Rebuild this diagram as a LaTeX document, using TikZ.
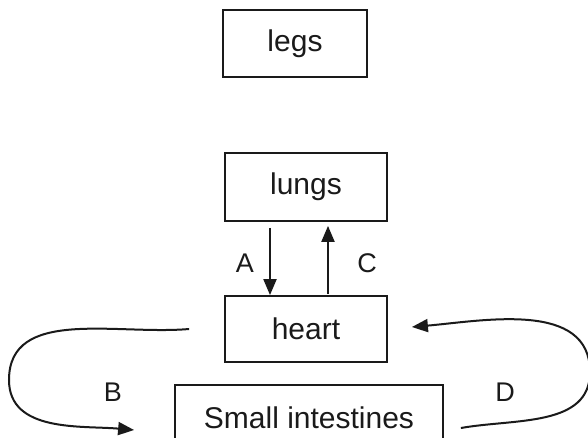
\documentclass[tikz,border=0pt]{standalone}
\usepackage{fontspec}
\setmainfont{Liberation Sans}
\usetikzlibrary{arrows.meta}
\begin{document}
\begin{tikzpicture}[x=1pt,y=1pt,font=\fontsize{30}{34}\selectfont]
  \definecolor{inka}{HTML}{1A1A1A}
  \tikzset{
    organ/.style={draw=inka,text=inka,line width=1.8pt,inner sep=0pt,minimum height=66pt},
    flow/.style={draw=inka,line width=2pt,-{Triangle[length=16pt,width=13pt]}},
    tag/.style={text=inka,font=\fontsize{27}{30}\selectfont}
  }
  \useasboundingbox (0,0) rectangle (588,438);
  \clip (0,0) rectangle (588,438);
  \node[organ,minimum width=144pt,minimum height=67pt] (legs) at (295,394.5) {legs};
  \node[organ,minimum width=162pt,minimum height=68pt] (lungs) at (306,251) {lungs};
  \node[organ,minimum width=162pt] (heart) at (306,109) {heart};
  \node[organ,minimum width=268pt] (intestines) at (309,20) {Small intestines};
  \draw[flow] ([xshift=-36pt,yshift=-6pt]lungs.south) -- ([xshift=-36pt]heart.north);
  \draw[flow] ([xshift=22pt,yshift=1pt]heart.north) -- ([xshift=22pt,yshift=-4pt]lungs.south);
  \node[tag] (A) at (245,175) {A};
  \node[tag] (C) at (367,175) {C};
  \coordinate (bturn) at (9,58);
  \coordinate (dturn) at (590,66);
  \draw[flow] ([xshift=-35pt]heart.west) to[out=185,in=90] (bturn)
    to[out=-90,in=175] ([xshift=-40pt,yshift=-12pt]intestines.west);
  \draw[flow] ([xshift=17pt,yshift=-10pt]intestines.east) to[out=10,in=-90] (dturn)
    to[out=90,in=5] ([xshift=24pt,yshift=2pt]heart.east);
  \node[tag] (B) at (113,46) {B};
  \node[tag] (D) at (505,46) {D};
\end{tikzpicture}
\end{document}
